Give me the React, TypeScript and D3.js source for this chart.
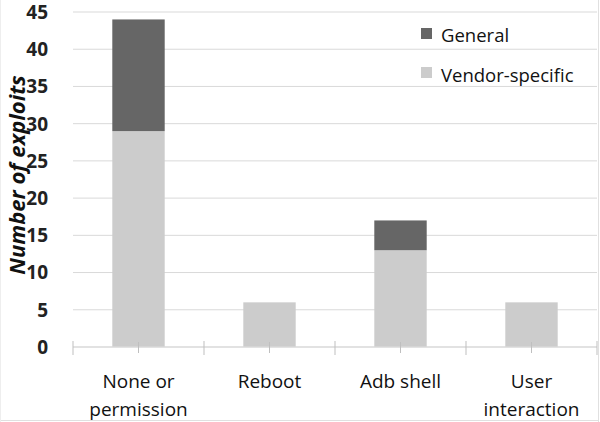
import React from "react";
import * as d3 from "d3";

const categories = ["None or\npermission", "Reboot", "Adb shell", "User\ninteraction"];
const vendorSpecific = [29, 6, 13, 6];
const general = [15, 0, 4, 0];
const yTicks = [0, 5, 10, 15, 20, 25, 30, 35, 40, 45];
const seriesNames = ["General", "Vendor-specific"];
const colors = { general: "#666666", vendor: "#cccccc", grid: "#d9d9d9" };

export default function App() {
  const W = 600, H = 422;
  const left = 73, right = 597, top = 12, bottom = 347;
  const x = d3.scaleBand<number>().domain(d3.range(categories.length)).range([left, right]).paddingInner(0).paddingOuter(0);
  const y = d3.scaleLinear().domain([0, 45]).range([bottom, top]);
  const bw = x.bandwidth() * 0.4;
  const font = "'Open Sans', 'Liberation Sans', sans-serif";

  return (
    <svg width={W} height={H} style={{ position: "absolute", left: 0, top: 0, background: "#fff" }} fontFamily={font}>
      {yTicks.filter(t => t > 0).map(t => (
        <line key={t} x1={left} x2={right} y1={y(t)} y2={y(t)} stroke={colors.grid} strokeWidth={1} />
      ))}
      {yTicks.map(t => (
        <text key={"l" + t} x={48} y={y(t)} dy="0.36em" textAnchor="end" fontSize={19} fontWeight="bold" fill="#222">{t}</text>
      ))}
      {categories.map((c, i) => {
        const cx = x(i)! + x.bandwidth() / 2;
        return (
          <g key={c}>
            <rect x={cx - bw / 2} y={y(vendorSpecific[i])} width={bw} height={y(0) - y(vendorSpecific[i])} fill={colors.vendor} />
            {general[i] > 0 && (
              <rect x={cx - bw / 2} y={y(vendorSpecific[i] + general[i])} width={bw} height={y(vendorSpecific[i]) - y(vendorSpecific[i] + general[i])} fill={colors.general} />
            )}
          </g>
        );
      })}
      <line x1={left} x2={right} y1={bottom} y2={bottom} stroke={colors.grid} strokeWidth={1.5} />
      {d3.range(categories.length + 1).map(i => {
        const xx = i < categories.length ? x(i)! : right;
        return <line key={"b" + i} x1={xx} x2={xx} y1={bottom - 6} y2={bottom + 8} stroke="#bfbfbf" />;
      })}
      {categories.map((c, i) => {
        const cx = x(i)! + x.bandwidth() / 2;
        return <line key={"c" + i} x1={cx} x2={cx} y1={bottom - 5} y2={bottom + 6} stroke="#bfbfbf" />;
      })}
      {categories.map((c, i) => {
        const cx = x(i)! + x.bandwidth() / 2;
        return (
          <text key={"t" + i} x={cx} y={388} textAnchor="middle" fontSize={19} fill="#111">
            {c.split("\n").map((line, k) => (
              <tspan key={k} x={cx} dy={k === 0 ? 0 : 28}>{line}</tspan>
            ))}
          </text>
        );
      })}
      <text transform={`translate(25,175) rotate(-90)`} textAnchor="middle" fontSize={22} fontWeight="bold" fontStyle="italic" fill="#111">Number of exploits</text>
      <rect x={421} y={28} width={11} height={11} fill={colors.general} />
      <text x={441} y={42} fontSize={18.5} fill="#111">{seriesNames[0]}</text>
      <rect x={421} y={67} width={11} height={11} fill={colors.vendor} />
      <text x={441} y={82} fontSize={18.5} fill="#111">{seriesNames[1]}</text>
      <line x1={598.5} x2={598.5} y1={0} y2={H} stroke="#e0e0e0" />
      <line x1={0} x2={599} y1={420.5} y2={420.5} stroke="#e0e0e0" />
      <line x1={0.5} x2={0.5} y1={0} y2={H} stroke="#eeeeee" />
    </svg>
  );
}
